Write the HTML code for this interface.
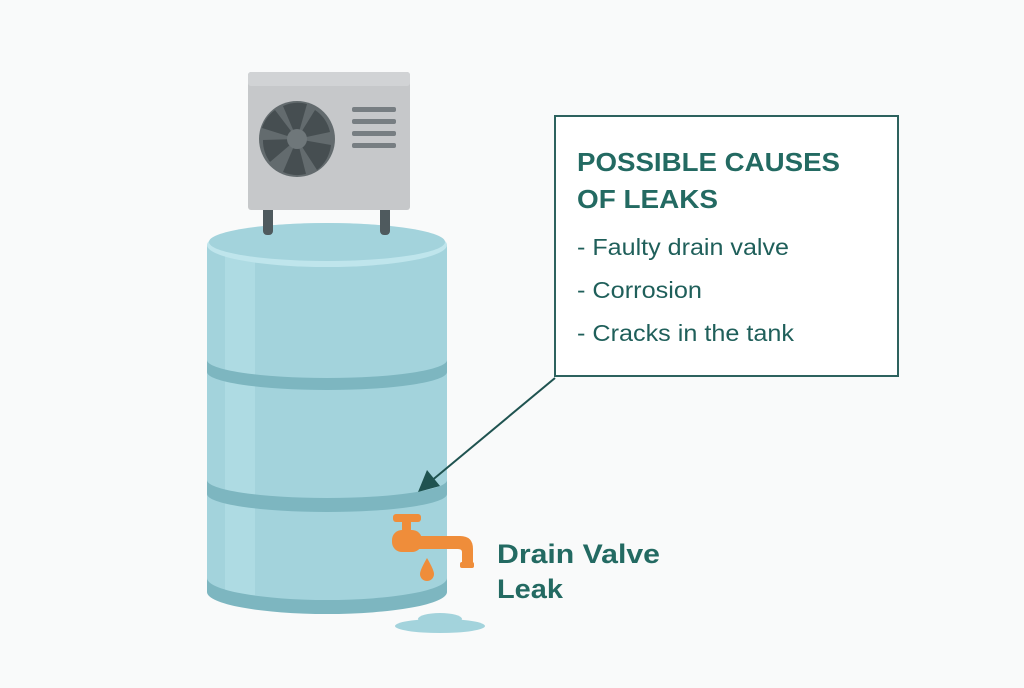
<!DOCTYPE html>
<html><head><style>
body{margin:0;width:1024px;height:683px;background:#f9fafa;overflow:hidden;font-family:"Liberation Sans",sans-serif;}
</style></head><body>
<svg width="1024" height="683" viewBox="0 0 1024 683" xmlns="http://www.w3.org/2000/svg">
<rect width="1024" height="683" fill="#f9fafa"/>
<!-- tank -->
<path d="M207,245 L207,590 A120,22 0 0 0 447,590 L447,245 Z" fill="#a3d3dc"/>
<rect x="225" y="250" width="30" height="345" fill="#aedbe3"/>
<path d="M207,578 A120,22 0 0 0 447,578 L447,592 A120,22 0 0 1 207,592 Z" fill="#7db6c0"/>
<path d="M207,360 A120,18 0 0 0 447,360 L447,372 A120,18 0 0 1 207,372 Z" fill="#7db6c0"/>
<path d="M207,480 A120,18 0 0 0 447,480 L447,494 A120,18 0 0 1 207,494 Z" fill="#7db6c0"/>
<ellipse cx="327" cy="245" rx="120" ry="22" fill="#bfe5ec"/>
<ellipse cx="327" cy="242" rx="118" ry="19" fill="#a3d3dc"/>
<!-- AC legs -->
<rect x="263" y="205" width="10" height="30" rx="4" fill="#4f5a5e"/>
<rect x="380" y="205" width="10" height="30" rx="4" fill="#4f5a5e"/>
<!-- AC -->
<rect x="248" y="72" width="162" height="138" rx="3" fill="#c6c8ca"/>
<rect x="248" y="72" width="162" height="14" rx="3" fill="#d1d3d5"/>
<circle cx="297" cy="139" r="38" fill="#636b6e"/>
<g fill="#464e51">
<path d="M297,139 L283,106 A36,36 0 0 1 307,104 Z"/>
<path d="M297,139 L315,110 A36,36 0 0 1 330,132 Z"/>
<path d="M297,139 L331,145 A36,36 0 0 1 317,170 Z"/>
<path d="M297,139 L306,174 A36,36 0 0 1 283,172 Z"/>
<path d="M297,139 L270,162 A36,36 0 0 1 263,140 Z"/>
<path d="M297,139 L262,128 A36,36 0 0 1 275,110 Z"/>
</g>
<circle cx="297" cy="139" r="10" fill="#6f777a"/>
<g fill="#777e82"><rect x="352" y="107" width="44" height="5" rx="2"/><rect x="352" y="119" width="44" height="5" rx="2"/><rect x="352" y="131" width="44" height="5" rx="2"/><rect x="352" y="143" width="44" height="5" rx="2"/></g>
<!-- faucet -->
<g fill="#ef8d3a">
<rect x="393" y="514" width="28" height="8" rx="3"/>
<rect x="402" y="518" width="9" height="14" />
<rect x="392" y="530" width="30" height="22" rx="10"/>
<path d="M410,536 L460,536 Q473,536 473,549 L473,566 L462,566 L462,552 Q462,549 458,549 L410,549 Z"/>
<rect x="460" y="562" width="14" height="6" rx="2"/>
<path d="M427,558 Q420,570 420,574 A7,7 0 0 0 434,574 Q434,570 427,558 Z"/>
</g>
<!-- puddle -->
<ellipse cx="440" cy="626" rx="45" ry="7" fill="#a3d3dc"/>
<ellipse cx="440" cy="619" rx="22" ry="6" fill="#a3d3dc"/>
<!-- box -->
<rect x="555" y="116" width="343" height="260" fill="#fff" stroke="#2d625e" stroke-width="2"/>
<line x1="555" y1="378" x2="430" y2="482" stroke="#1f5350" stroke-width="2"/>
<polygon points="418,492 427,470 440,486" fill="#1f5350"/>
<g font-family="Liberation Sans, sans-serif" fill="#1f5f5a">
<text x="577" y="171" font-size="26" font-weight="bold" fill="#236a62" textLength="263" lengthAdjust="spacingAndGlyphs">POSSIBLE CAUSES</text>
<text x="577" y="208" font-size="26" font-weight="bold" fill="#236a62" textLength="141" lengthAdjust="spacingAndGlyphs">OF LEAKS</text>
<text x="577" y="255" font-size="23" textLength="212" lengthAdjust="spacingAndGlyphs">- Faulty drain valve</text>
<text x="577" y="298" font-size="23" textLength="125" lengthAdjust="spacingAndGlyphs">- Corrosion</text>
<text x="577" y="341" font-size="23" textLength="217" lengthAdjust="spacingAndGlyphs">- Cracks in the tank</text>
<text x="497" y="563" font-size="27" font-weight="bold" fill="#236a62" textLength="163" lengthAdjust="spacingAndGlyphs">Drain Valve</text>
<text x="497" y="598" font-size="27" font-weight="bold" fill="#236a62" textLength="66" lengthAdjust="spacingAndGlyphs">Leak</text>
</g>
</svg>
</body></html>
